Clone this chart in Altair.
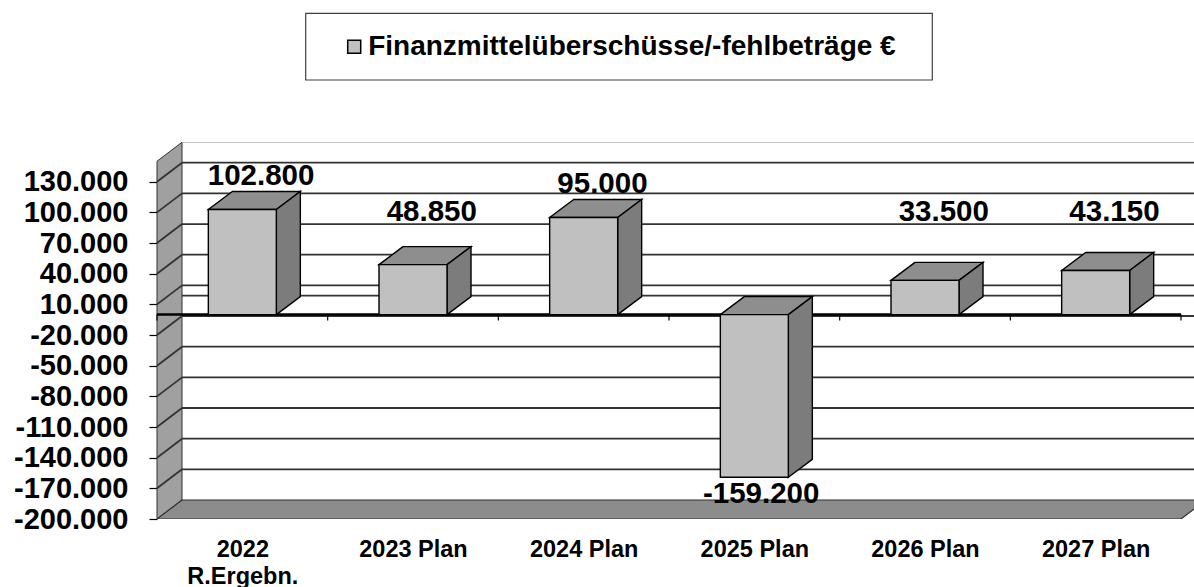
import json
import altair as alt
import pandas as pd

# ---------------- data ----------------
categories = ["2022\nR.Ergebn.", "2023 Plan", "2024 Plan", "2025 Plan", "2026 Plan", "2027 Plan"]
values = [102800, 48850, 95000, -159200, 33500, 43150]
series_name = "Finanzmittelüberschüsse/-fehlbeträge €"
y_ticks = list(range(-200000, 130001, 30000))
y_min = -200000
y_wall_top = 150000

# ---------------- layout / style ----------------
FONT = "Liberation Sans"
PAD_L, PAD_T, W, H, PAD_B = 157, 142, 1037, 377, 68
N = len(categories)
PX_X = 1024 / N            # pixels per category on the front axis
PX_Y = 0.0010221           # pixels per unit of value
XMAX = W / PX_X
Y_TOP = y_min + H / PX_Y
WDX, WDY = 25 / PX_X, 19 / PX_Y     # wall depth
BDX, BDY = 24 / PX_X, 18 / PX_Y     # bar depth
BW = 68 / PX_X                      # bar width

FRONT = "#c0c0c0"
TOP = "#8e8e8e"
SIDE = "#7c7c7c"
WALL = "#a0a0a0"
FLOOR = "#8c8c8c"
GRID = "#333333"

xs = alt.Scale(domain=[0, XMAX], nice=False, zero=False)
ys = alt.Scale(domain=[y_min, Y_TOP], nice=False, zero=False)

x_label_expr = "split(" + json.dumps(categories) + "[floor(datum.value)], '\\n')"
x_axis = alt.Axis(values=[i + 0.5 for i in range(N)], labelExpr=x_label_expr, grid=False,
                  domain=False, ticks=False, tickSize=0, labelFontSize=23.5, labelFont=FONT,
                  labelFontWeight="bold", labelColor="black", labelLineHeight=27,
                  labelPadding=18, title=None, labelFlush=False, labelOverlap=False)
y_axis = alt.Axis(values=y_ticks,
                  labelExpr="(datum.value < 0 ? '-' : '') + replace(format(abs(datum.value), ','), ',', '.')",
                  grid=False, domain=False, ticks=True, tickSize=8, tickColor="black", tickWidth=1.2,
                  labelFontSize=29, labelFont=FONT, labelFontWeight="bold", labelColor="black",
                  labelPadding=21, title=None, labelOverlap=False, labelFlush=False)


def X(field, **kw):
    return alt.X(field, scale=xs, axis=x_axis, **kw)


def Y(field, **kw):
    return alt.Y(field, scale=ys, axis=y_axis, **kw)


# ---------------- walls ----------------
wall_df = pd.DataFrame({"x": [0, WDX], "y": [y_min, y_min + WDY],
                        "y2": [y_wall_top, y_wall_top + WDY]})
left_wall = alt.Chart(wall_df).mark_area(fill=WALL, stroke="#303030", strokeWidth=1,
                                         orient="vertical").encode(
    x=X("x:Q"), y=Y("y:Q", stack=None), y2="y2:Q")

grid_vals = [v for v in y_ticks if v != y_min]
slant_df = pd.DataFrame({"x": [0] * len(grid_vals), "x2": [WDX] * len(grid_vals),
                         "y": grid_vals, "y2": [v + WDY for v in grid_vals]})
wall_grid = alt.Chart(slant_df).mark_rule(color=GRID, strokeWidth=1.8).encode(
    x=X("x:Q"), x2="x2:Q", y=Y("y:Q"), y2="y2:Q")

back_vals = grid_vals + [0]
back_df = pd.DataFrame({"x": [WDX] * len(back_vals), "x2": [N + WDX] * len(back_vals),
                        "y": [v + WDY for v in back_vals]})
back_grid = alt.Chart(back_df).mark_rule(color=GRID, strokeWidth=1.8, clip=True).encode(
    x=X("x:Q"), x2="x2:Q", y=Y("y:Q"))

top_df = pd.DataFrame({"x": [WDX], "x2": [N + WDX], "y": [y_wall_top + WDY]})
back_top = alt.Chart(top_df).mark_rule(color="#b0b0b0", strokeWidth=1.2, clip=True).encode(
    x=X("x:Q"), x2="x2:Q", y=Y("y:Q"))

floor_df = pd.DataFrame({"y": [y_min, y_min + WDY], "x": [0, WDX], "x2": [N, N + WDX]})
floor = alt.Chart(floor_df).mark_area(fill=FLOOR, stroke="#303030", strokeWidth=1.2,
                                      orient="horizontal", clip=True).encode(
    y=Y("y:Q"), x=X("x:Q", stack=None), x2="x2:Q")

# ---------------- zero axis ----------------
zero_df = pd.DataFrame({"x": [0], "x2": [N], "y": [0]})
zero_line = alt.Chart(zero_df).mark_rule(color="black", strokeWidth=2.5).encode(
    x=X("x:Q"), x2="x2:Q", y=Y("y:Q"))
tick_df = pd.DataFrame({"x": list(range(N + 1)), "y": [0] * (N + 1),
                        "y2": [-6 / PX_Y] * (N + 1)})
zero_ticks = alt.Chart(tick_df).mark_rule(color="black", strokeWidth=1.2).encode(
    x=X("x:Q"), y=Y("y:Q"), y2="y2:Q")

# ---------------- bars ----------------
front_rows, top_rows, side_rows, label_rows = [], [], [], []
for i, v in enumerate(values):
    x0 = i + 0.5 - BW / 2
    x1 = i + 0.5 + BW / 2
    top = max(v, 0)
    bot = min(v, 0)
    front_rows.append({"id": i, "x": x0, "x2": x1, "y": bot, "y2": top, "series": series_name})
    top_rows += [{"id": i, "y": top, "xa": x0, "xb": x1},
                 {"id": i, "y": top + BDY, "xa": x0 + BDX, "xb": x1 + BDX}]
    side_rows += [{"id": i, "x": x1, "ya": bot, "yb": top},
                  {"id": i, "x": x1 + BDX, "ya": bot + BDY, "yb": top + BDY}]
    label_rows.append({
        "x": i + 0.5 + (0.11 if v > 0 else 0.04),
        "y": max(v + 33000, 100000) if v > 0 else v - 16300,
        "text": f"{v:,}".replace(",", "."),
    })

top_faces = alt.Chart(pd.DataFrame(top_rows)).mark_area(
    fill=TOP, stroke="black", strokeWidth=1.4, orient="horizontal").encode(
    y=Y("y:Q"), x=X("xa:Q", stack=None), x2="xb:Q", detail="id:N")

side_faces = alt.Chart(pd.DataFrame(side_rows)).mark_area(
    fill=SIDE, stroke="black", strokeWidth=1.4, orient="vertical").encode(
    x=X("x:Q"), y=Y("ya:Q", stack=None), y2="yb:Q", detail="id:N")

legend = alt.Legend(
    orient="none", legendX=148.7, legendY=-128.7, title=None,
    padding=19.5, symbolType="square", symbolSize=169,
    symbolStrokeColor="black", symbolStrokeWidth=1.5, symbolOpacity=1,
    symbolOffset=15, labelOffset=0, labelFont=FONT, labelFontSize=28,
    labelFontWeight="bold", labelColor="black", labelLimit=900)

front_faces = alt.Chart(pd.DataFrame(front_rows)).mark_rect(
    stroke="black", strokeWidth=1.4, opacity=1).encode(
    x=X("x:Q"), x2="x2:Q", y=Y("y:Q"), y2="y2:Q",
    color=alt.Color("series:N", scale=alt.Scale(domain=[series_name], range=[FRONT]),
                    legend=legend))

# frame around the legend (pixel offsets relative to the plot origin)
legend_frame = alt.Chart(pd.DataFrame({"k": [0]})).mark_rect(
    fill=None, stroke="#404040", strokeWidth=1.2).encode(
    x=alt.value(305.7 - PAD_L), x2=alt.value(932.3 - PAD_L),
    y=alt.value(13.3 - PAD_T), y2=alt.value(80 - PAD_T))

labels = alt.Chart(pd.DataFrame(label_rows)).mark_text(
    font=FONT, fontSize=29.5, fontWeight="bold", color="black",
    align="center", baseline="middle").encode(
    x=X("x:Q"), y=Y("y:Q"), text="text:N")

chart = alt.layer(
    left_wall, back_top, back_grid, wall_grid, floor, zero_line, zero_ticks,
    top_faces, side_faces, front_faces, labels, legend_frame
).properties(
    width=W, height=H,
    autosize=alt.AutoSizeParams(type="none"),
    padding={"left": PAD_L, "top": PAD_T, "right": 0, "bottom": PAD_B},
    background="white",
).configure_view(stroke=None)

chart.save("out.html", embed_options={"renderer": "svg", "actions": False})
